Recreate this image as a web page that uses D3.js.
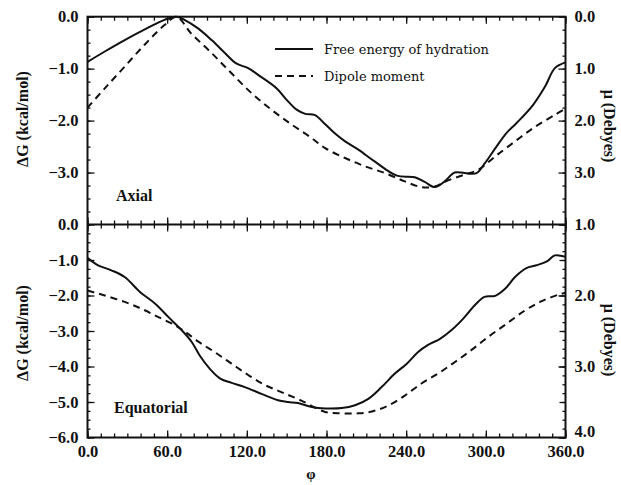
<!DOCTYPE html>
<html><head><meta charset="utf-8">
<script src="https://cdn.jsdelivr.net/npm/d3@7"></script>
<style>
body{margin:0;background:#fff;}
svg text{font-family:"Liberation Serif","Times New Roman",serif;font-weight:bold;fill:#111;}
</style></head><body>
<svg id="c" width="621" height="485"></svg>
<script>
// ---- Data ----
// Axial panel: free energy of hydration (kcal/mol)
const axialPhiG = [0,13,28,45,58,67,73,83,93.5,103.5,112,121,128.5,142.5,150,157.5,164,171,179,186,194,204,216.5,233,246.5,254,261.5,269,276.5,284,293,299,308,315.5,323,335.5,344.5,352,360];
const axialG    = [-0.87,-0.67,-0.45,-0.22,-0.06,0,-0.06,-0.22,-0.45,-0.70,-0.90,-0.99,-1.12,-1.38,-1.60,-1.79,-1.87,-1.89,-2.07,-2.24,-2.40,-2.56,-2.79,-3.06,-3.09,-3.18,-3.28,-3.17,-3.00,-3.01,-3.01,-2.83,-2.50,-2.24,-2.05,-1.70,-1.35,-0.99,-0.88];
// Axial panel: dipole moment (Debyes)
const axialPhiMu = [0,13,28,43,58,67,78,93.5,108.5,123.5,138.5,154,169,179,194,209,224,239,251.5,261.5,271.5,284,294,307,322,337,352,360];
const axialMu    = [1.75,1.38,0.96,0.54,0.16,0,0.32,0.70,1.09,1.47,1.79,2.08,2.34,2.53,2.72,2.88,3.01,3.17,3.28,3.27,3.15,3.04,2.95,2.69,2.40,2.12,1.89,1.77];
// Equatorial panel: free energy of hydration (kcal/mol)
const eqPhiG = [0,8,18,28,39.5,51,61,71,78.5,84.5,92,100,108.5,118.5,131,143.5,151,158.5,169,179,191.5,201.5,211.5,221.5,231.5,240.5,249,256.5,265.5,274,283,292,299,307,314.5,322,330.5,338,346,352,360];
const eqG    = [-0.94,-1.15,-1.29,-1.48,-1.90,-2.23,-2.61,-2.98,-3.31,-3.69,-4.06,-4.34,-4.46,-4.58,-4.77,-4.95,-5.0,-5.03,-5.14,-5.18,-5.17,-5.09,-4.91,-4.58,-4.20,-3.92,-3.59,-3.39,-3.22,-2.98,-2.65,-2.26,-2.04,-2.01,-1.81,-1.48,-1.23,-1.15,-1.04,-0.87,-0.91];
// Equatorial panel: dipole moment (Debyes)
const eqPhiMu = [0,13,28,41,53,66,73.5,83.5,96,108.5,121,133.5,146,161,179,191.5,204,215,226.5,239,251.5,264,276.5,289,302,315.5,329.5,342,354.5,360];
const eqMu    = [1.93,2.0,2.09,2.19,2.30,2.42,2.51,2.65,2.80,2.96,3.12,3.26,3.36,3.48,3.64,3.66,3.66,3.63,3.55,3.41,3.24,3.10,2.94,2.77,2.58,2.40,2.21,2.08,1.99,1.96];

const xTicks = [0,60,120,180,240,300,360];
const gTicksTop = [0,-1,-2,-3];
const gTicksBot = [0,-1,-2,-3,-4,-5,-6];
const muTicksTop = [0,1,2,3];
const muTicksBot = [1,2,3,4];
const legendLabels = ["Free energy of hydration","Dipole moment"];
const panelLabels = ["Axial","Equatorial"];

// ---- Layout ----
const X0=87.5, X1=565.5, T0=16.7, MID=224.5, B1=437.5;
const svg = d3.select("#c");
const x = d3.scaleLinear([0,360],[X0,X1]);
const yTop = d3.scaleLinear([-4,0],[MID,T0]);
const muTop = d3.scaleLinear([0,4],[T0,MID]);
const yBot = d3.scaleLinear([-6,0],[B1,MID]);
const muBot = d3.scaleLinear([1,4],[MID,B1]);

const fmt = d3.format(".1f");
const fmtNeg = v => (v<0? "\u2212"+fmt(-v) : fmt(v));
const TICKFS = 16.5;

function styleAxis(g){
  g.select(".domain").remove();
  g.selectAll("line").attr("stroke","#111").attr("stroke-width",1.3);
  g.selectAll("text").attr("font-size",TICKFS);
}

// Left axes
function leftAxis(scale, ticks, minorStep){
  const dom = scale.domain();
  const minor = d3.range(dom[0], dom[1]+1e-9, minorStep);
  svg.append("g").attr("transform",`translate(${X0},0)`)
    .call(d3.axisLeft(scale).tickValues(minor).tickSize(-3).tickFormat(""))
    .call(styleAxis);
  svg.append("g").attr("transform",`translate(${X0},0)`)
    .call(d3.axisLeft(scale).tickValues(ticks).tickSize(-7).tickPadding(9).tickFormat(fmtNeg))
    .call(styleAxis);
}
leftAxis(yTop, gTicksTop, 0.25);
leftAxis(yBot, gTicksBot, 0.25);

// Right axes
function rightAxis(scale, ticks, minorStep, medStep, lastLift){
  const dom = scale.domain();
  const minor = d3.range(dom[0], dom[1]+1e-9, minorStep);
  svg.append("g").attr("transform",`translate(${X1},0)`)
    .call(d3.axisRight(scale).tickValues(minor).tickSize(-3).tickFormat(""))
    .call(styleAxis);
  if(medStep){
    const med = d3.range(dom[0], dom[1]+1e-9, medStep);
    svg.append("g").attr("transform",`translate(${X1},0)`)
      .call(d3.axisRight(scale).tickValues(med).tickSize(-6).tickFormat(""))
      .call(styleAxis);
  }
  const g = svg.append("g").attr("transform",`translate(${X1},0)`)
    .call(d3.axisRight(scale).tickValues(ticks).tickSize(-7).tickPadding(9).tickFormat(fmt))
    .call(styleAxis);
  if(lastLift){
    g.selectAll(".tick").filter(d=>d===ticks[ticks.length-1]).select("text").attr("y",-lastLift);
  }
}
rightAxis(muTop, muTicksTop, 0.25);
rightAxis(muBot, muTicksBot, 0.125, 0.5, 6);

// X axes (ticks inward)
const xMinor = d3.range(0,361,10);
function xAxisAt(y, dir, labels){
  const mk = dir>0 ? d3.axisTop : d3.axisBottom;
  svg.append("g").attr("transform",`translate(0,${y})`)
    .call(mk(x).tickValues(xMinor).tickSize(-4).tickFormat(""))
    .call(styleAxis);
  svg.append("g").attr("transform",`translate(0,${y})`)
    .call(mk(x).tickValues(xTicks).tickSize(-7).tickPadding(8).tickFormat(labels?fmt:""))
    .call(styleAxis);
}
xAxisAt(T0, 1, false);
xAxisAt(MID, 1, false);
xAxisAt(MID, -1, false);
xAxisAt(B1, -1, true);

// Frames
svg.append("rect").attr("x",X0).attr("y",T0).attr("width",X1-X0).attr("height",B1-T0)
  .attr("fill","none").attr("stroke","#111").attr("stroke-width",2);
svg.append("line").attr("x1",X0).attr("x2",X1).attr("y1",MID).attr("y2",MID)
  .attr("stroke","#111").attr("stroke-width",2.2);

// Curves
const curve = d3.curveCatmullRom.alpha(0.5);
function drawLine(phis, vals, yScale, dashed){
  const pts = phis.map((p,i)=>[p, vals[i]]);
  svg.append("path").datum(pts)
    .attr("d", d3.line().x(d=>x(d[0])).y(d=>yScale(d[1])).curve(curve))
    .attr("fill","none").attr("stroke","#111").attr("stroke-width",2)
    .attr("stroke-dasharray", dashed? "7,5" : null);
}
drawLine(axialPhiG, axialG, yTop, false);
drawLine(axialPhiMu, axialMu, muTop, true);
drawLine(eqPhiG, eqG, yBot, false);
drawLine(eqPhiMu, eqMu, muBot, true);

// Legend
const legY = [49, 76];
legendLabels.forEach((t,i)=>{
  svg.append("line").attr("x1",275).attr("x2",313).attr("y1",legY[i]).attr("y2",legY[i])
    .attr("stroke","#111").attr("stroke-width",2).attr("stroke-dasharray", i? "7,5": null);
  svg.append("text").attr("x",324).attr("y",legY[i]+5)
    .style("font-weight","normal").style("font-family","'DejaVu Serif',serif").attr("font-size",13).text(t);
});

// Panel labels
svg.append("text").attr("x",116).attr("y",201).attr("font-size",16).text(panelLabels[0]);
svg.append("text").attr("x",114).attr("y",413).attr("font-size",16).text(panelLabels[1]);

// Axis titles
function vtitle(xp, yp, rot, t){
  svg.append("text").attr("transform",`translate(${xp},${yp}) rotate(${rot})`)
    .attr("text-anchor","middle").attr("font-size",16).text(t);
}
vtitle(28, 119, -90, "\u0394G (kcal/mol)");
vtitle(28, 333, -90, "\u0394G (kcal/mol)");
vtitle(604, 126, 90, "\u03bc (Debyes)");
vtitle(604, 340, 90, "\u03bc (Debyes)");
svg.append("text").attr("x",311).attr("y",479).attr("text-anchor","middle").attr("font-size",15).text("\u03c6");
</script>
</body></html>
